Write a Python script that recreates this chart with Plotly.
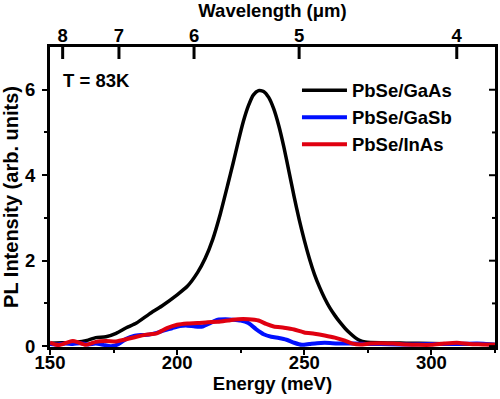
import plotly.graph_objects as go

# ---- data ----
gaas_E = [150,155,160,165,168,172,176,180,184,189,194,200,204,208,211,214,217,220,222,224,226,228,230,232,234,236,238,240,242,244,246,248,250,252,254,256,258,260,262,264,266,268,270,272,274,280,290,300,310,320,325]
gaas_I = [0.07,0.08,0.09,0.14,0.2,0.22,0.3,0.43,0.54,0.75,0.94,1.2,1.4,1.72,2.05,2.5,3.1,3.8,4.28,4.78,5.25,5.62,5.88,5.98,5.96,5.82,5.55,5.15,4.65,4.08,3.5,2.96,2.48,2.05,1.68,1.38,1.12,0.9,0.72,0.56,0.42,0.3,0.2,0.13,0.1,0.08,0.07,0.06,0.05,0.05,0.04]

gasb_E = [150,153,156,159,162,165,168,171,174,177,180,183,186,189,192,195,198,201,204,207,210,213,216,219,222,225,228,231,234,237,240,243,246,249,252,255,258,261,265,270,275,280,290,300,310,318,325]
gasb_I = [0.05,0.04,0.06,0.05,0.07,0.04,0.06,0.03,0.0,0.05,0.17,0.24,0.26,0.27,0.31,0.37,0.42,0.47,0.48,0.46,0.46,0.54,0.62,0.63,0.62,0.6,0.54,0.4,0.28,0.22,0.19,0.15,0.08,0.03,0.05,0.07,0.08,0.07,0.06,0.06,0.05,0.05,0.04,0.05,0.05,0.06,0.03]

inas_E = [150,152,154,157,159,161,164,166,168,172,176,180,184,188,192,196,200,204,208,212,216,220,224,228,232,235,238,242,246,250,254,258,262,266,269,272,276,280,285,290,295,300,305,310,315,320,325]
inas_I = [0.08,0.04,0.03,0.09,0.12,0.09,0.03,0.06,0.1,0.12,0.11,0.16,0.22,0.27,0.3,0.42,0.5,0.53,0.54,0.56,0.57,0.6,0.63,0.63,0.6,0.52,0.46,0.43,0.39,0.32,0.29,0.25,0.2,0.13,0.06,0.04,0.06,0.07,0.06,0.04,0.03,0.03,0.06,0.08,0.05,0.04,0.03]

wavelength_um = [8, 7, 6, 5, 4]
HC = 1239.84  # meV*um
wl_tick_E = [HC / w for w in wavelength_um]
wl_tick_text = [str(w) for w in wavelength_um]

y_major = [0, 2, 4, 6]
y_minor = [1, 3, 5]

X_RANGE = [150, 325]
Y_RANGE = [-0.02, 7]

series_names = ["PbSe/GaAs", "PbSe/GaSb", "PbSe/InAs"]
series_colors = ["#000000", "#0010ff", "#e00010"]

FONT = "Liberation Sans, Arial, sans-serif"

fig = go.Figure()
for E, I, name, col, w in zip([gaas_E, gasb_E, inas_E], [gaas_I, gasb_I, inas_I],
                              series_names, series_colors, [3.5, 4, 4]):
    fig.add_trace(go.Scatter(x=E, y=I, mode="lines", name=name,
                             line=dict(color=col, width=w, shape="spline", smoothing=0.6)))

# ---- inward ticks on the top (wavelength) and right axes, through the axis scales ----
xr0, xr1 = X_RANGE
yr0, yr1 = Y_RANGE
px_per_x = 445 / (xr1 - xr0)
px_per_y = 300 / (yr1 - yr0)

top_tx, top_ty = [], []
for e in wl_tick_E:
    top_tx += [e, e, None]
    top_ty += [yr1, yr1 - 12 / px_per_y, None]
fig.add_trace(go.Scatter(x=top_tx, y=top_ty, mode="lines",
                         line=dict(color="black", width=3), showlegend=False, hoverinfo="skip"))

right_tx, right_ty = [], []
for v in y_major:
    right_tx += [xr1, xr1 - 6 / px_per_x, None]
    right_ty += [v, v, None]
for v in y_minor:
    right_tx += [xr1, xr1 - 3 / px_per_x, None]
    right_ty += [v, v, None]
fig.add_trace(go.Scatter(x=right_tx, y=right_ty, mode="lines",
                         line=dict(color="black", width=2), showlegend=False, hoverinfo="skip"))

# invisible trace to activate the top (wavelength) axis
fig.add_trace(go.Scatter(x=X_RANGE, y=[0, 0], xaxis="x2", yaxis="y", mode="lines",
                         line=dict(width=0), showlegend=False, hoverinfo="skip"))

tf = dict(family=FONT, size=18.5, color="black", weight="bold")

fig.update_layout(
    width=500, height=399,
    margin=dict(l=50, r=5, t=47, b=52),
    paper_bgcolor="white", plot_bgcolor="white",
    font=dict(family=FONT, color="black"),
    showlegend=True,
    legend=dict(x=0.555, y=0.918, xanchor="left", yanchor="top",
                bgcolor="rgba(0,0,0,0)", font=tf, itemwidth=45,
                tracegroupgap=0),
    xaxis=dict(range=X_RANGE, tickmode="linear", tick0=150, dtick=50,
               ticks="outside", ticklen=5, tickwidth=2, tickcolor="black",
               minor=dict(ticks="outside", dtick=25, ticklen=3, tickwidth=2, tickcolor="black"),
               showline=True, linecolor="black", linewidth=3, mirror=True, automargin=False,
               showgrid=False, zeroline=False, tickfont=tf, ticklabelstandoff=-8,
               title=dict(text="Energy (meV)", font=tf, standoff=2)),
    xaxis2=dict(range=X_RANGE, overlaying="x", side="top", anchor="y",
                tickmode="array", tickvals=wl_tick_E, ticktext=wl_tick_text,
                ticks="", showline=False, automargin=False,
                showgrid=False, zeroline=False, tickfont=tf,
                title=dict(text="Wavelength (μm)", font=tf, standoff=2)),
    yaxis=dict(range=Y_RANGE, tickmode="array", tickvals=y_major,
               ticks="outside", ticklen=5, tickwidth=2, tickcolor="black",
               minor=dict(ticks="outside", tickvals=y_minor, ticklen=3, tickwidth=2, tickcolor="black"),
               showline=True, linecolor="black", linewidth=3, mirror=True, automargin=False,
               showgrid=False, zeroline=False, tickfont=tf, ticklabelstandoff=3,
               title=dict(text="PL Intensity (arb. units)",
                          font=dict(family=FONT, size=20, color="black", weight="bold"),
                          standoff=6)),
    annotations=[dict(text="T = 83K", x=0.025, y=0.889, xref="paper", yref="paper",
                      xanchor="left", yanchor="middle", showarrow=False, font=tf)],
)

fig.write_html("out.html", config={"displayModeBar": False},
               post_script="document.body.style.margin='0';document.body.style.padding='0';")
